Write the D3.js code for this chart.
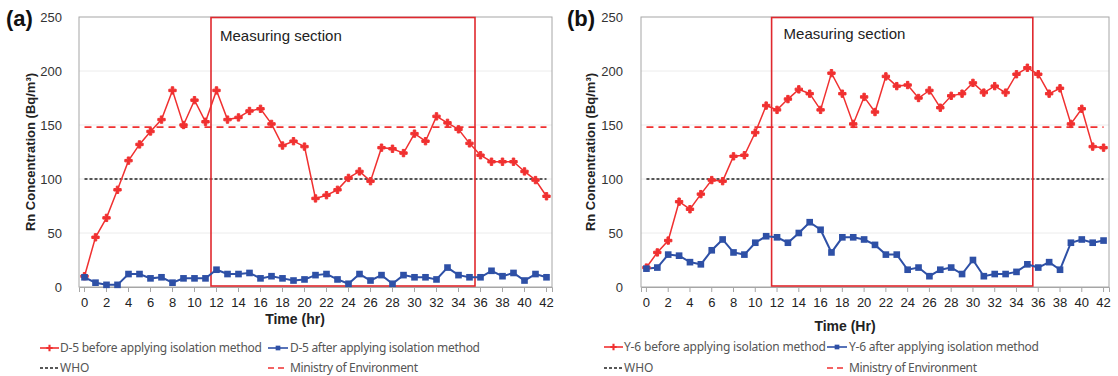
<!DOCTYPE html>
<html>
<head>
<meta charset="utf-8">
<script src="https://cdn.jsdelivr.net/npm/d3@7"></script>
<style>
  html, body { margin: 0; padding: 0; background: #fff; }
  svg { display: block; }
  text { font-family: "Liberation Sans", Arial, sans-serif; }
  text.leg { font-family: "Noto Sans", sans-serif; }
</style>
</head>
<body>
<svg id="chart" width="1118" height="376"></svg>
<script>
// ---------- data ----------
const hours = [0,1,2,3,4,5,6,7,8,9,10,11,12,13,14,15,16,17,18,19,20,21,22,23,24,25,26,27,28,29,30,31,32,33,34,35,36,37,38,39,40,41,42];
const tickLabels = [0,2,4,6,8,10,12,14,16,18,20,22,24,26,28,30,32,34,36,38,40,42];
const yTicks = [0,50,100,150,200,250];

const d5Before = [10,46,64,90,117,132,144,155,182,150,173,153,182,155,157,163,165,151,131,135,130,82,85,90,101,107,98,129,128,124,142,135,158,152,146,133,122,116,116,116,107,99,84];
const d5After  = [9,4,2,2,12,12,8,9,4,8,8,8,16,12,12,13,8,10,8,6,7,11,12,7,3,12,6,11,3,11,9,9,7,18,11,9,9,15,10,13,6,12,9];
const y6Before = [18,32,43,79,72,86,99,98,121,122,143,168,164,174,183,179,164,198,179,151,176,162,195,186,187,175,182,166,177,179,189,180,186,180,197,203,197,179,184,151,165,130,129];
const y6After  = [17,18,30,29,23,21,34,44,32,30,41,47,46,41,50,60,53,32,46,46,44,39,30,30,16,18,10,16,18,12,25,10,12,12,14,21,18,23,16,41,44,41,43];

const whoLimit = 100;
const moeLimit = 148;
const sectionStart = 12;   // first hour inside measuring section
const sectionEnd = 35;     // last hour inside measuring section

const panelLabels = ["(a)", "(b)"];
const xTitles = ["Time (hr)", "Time (Hr)"];
const yTitle = "Rn Concentration (Bq/m\u00B3)";
const sectionLabel = "Measuring section";
const legendBefore = ["D-5 before applying isolation method", "Y-6 before applying isolation method"];
const legendAfter  = ["D-5 after applying isolation method", "Y-6 after applying isolation method"];
const legendWho = "WHO";
const legendMoe = "Ministry of Environment";

// ---------- styles ----------
const RED = "#f03030";
const BLUE = "#2e50a6";
const BOX = "#e0282e";
const FRAME = "#a6a6a6";

const svg = d3.select("#chart");

function drawPanel(o) {
  const g = svg.append("g");
  const x = d3.scaleBand().domain(hours).range([o.left, o.right]).padding(0);
  const y = d3.scaleLinear().domain([0, 250]).range([o.bottom, o.top]);
  const cx = h => x(h) + x.bandwidth() / 2;

  // gridlines
  g.selectAll(".grid").data(yTicks.filter(v => v > 0 && v < 250)).join("line")
    .attr("x1", o.left).attr("x2", o.right)
    .attr("y1", d => y(d)).attr("y2", d => y(d))
    .attr("stroke", "#ececec").attr("stroke-width", 1);

  // frame
  g.append("rect").attr("x", o.left).attr("y", o.top)
    .attr("width", o.right - o.left).attr("height", o.bottom - o.top)
    .attr("fill", "none").attr("stroke", FRAME).attr("stroke-width", 1);

  // y axis
  const yAxis = d3.axisLeft(y).tickValues(yTicks).tickSize(0).tickPadding(o.yPad);
  const ya = g.append("g").attr("transform", `translate(${o.left},0)`).call(yAxis);
  ya.select(".domain").remove();
  ya.selectAll("text").attr("font-size", 13).attr("fill", "#333");

  // x axis
  const xAxis = d3.axisBottom(x).tickValues(tickLabels).tickSize(5).tickPadding(6);
  const xa = g.append("g").attr("transform", `translate(0,${o.bottom})`).call(xAxis);
  xa.select(".domain").attr("stroke", FRAME);
  xa.selectAll(".tick line").attr("stroke", FRAME);
  xa.selectAll("text").attr("font-size", 13).attr("fill", "#222");

  // reference lines
  g.append("line").attr("x1", cx(hours[0])).attr("x2", cx(hours[hours.length - 1]))
    .attr("y1", y(whoLimit)).attr("y2", y(whoLimit))
    .attr("stroke", "#222").attr("stroke-width", 1.6).attr("stroke-dasharray", "3,2");
  g.append("line").attr("x1", cx(hours[0])).attr("x2", cx(hours[hours.length - 1]))
    .attr("y1", y(moeLimit)).attr("y2", y(moeLimit))
    .attr("stroke", RED).attr("stroke-width", 1.6).attr("stroke-dasharray", "7,5");

  // measuring section box
  g.append("rect")
    .attr("x", x(sectionStart)).attr("y", o.top + 0.5)
    .attr("width", x(sectionEnd) + x.bandwidth() - x(sectionStart))
    .attr("height", o.bottom - o.top - 1.5)
    .attr("fill", "none").attr("stroke", BOX).attr("stroke-width", 1.6);
  g.append("text").attr("x", x(sectionStart) + o.secDx).attr("y", o.top + o.secDy)
    .attr("font-size", 15).attr("fill", "#222").text(sectionLabel);

  // series
  const line = d3.line().x((d, i) => cx(hours[i])).y(d => y(d));
  g.append("path").datum(o.before).attr("d", line)
    .attr("fill", "none").attr("stroke", RED).attr("stroke-width", 1.5);
  g.append("path").datum(o.after).attr("d", line)
    .attr("fill", "none").attr("stroke", BLUE).attr("stroke-width", 2);

  const marker = d3.symbol().type(d3.symbolCross).size(30);
  const square = d3.symbol().type(d3.symbolSquare).size(44);
  g.selectAll(".mb").data(o.before).join("path")
    .attr("transform", (d, i) => `translate(${cx(hours[i])},${y(d)}) rotate(0)`)
    .attr("d", marker).attr("fill", RED).attr("stroke", RED).attr("stroke-width", 1).attr("stroke-linejoin", "round");
  g.selectAll(".ma").data(o.after).join("path")
    .attr("transform", (d, i) => `translate(${cx(hours[i])},${y(d)})`)
    .attr("d", square).attr("fill", BLUE);

  // panel label
  g.append("text").attr("x", o.labelX).attr("y", 26)
    .attr("font-size", 22).attr("font-weight", "bold").attr("fill", "#111").text(o.label);

  // y title
  g.append("text").attr("transform", `translate(${o.yTitleX},152) rotate(-90)`)
    .attr("text-anchor", "middle").attr("font-size", 13).attr("font-weight", "bold")
    .attr("fill", "#222").text(yTitle);

  // x title
  g.append("text").attr("x", o.xTitleX).attr("y", o.xTitleY)
    .attr("text-anchor", "middle").attr("font-size", 14).attr("font-weight", "bold")
    .attr("fill", "#222").text(o.xTitle);

  // legend
  const lg = g.append("g");
  const r1 = o.leg1Y, r2 = o.leg2Y;
  const legText = (xx, yy, s, tl) => {
    const t = lg.append("text").attr("class", "leg").attr("x", xx).attr("y", yy)
      .attr("font-size", 12).attr("fill", "#555").text(s);
    if (tl) t.attr("textLength", tl).attr("lengthAdjust", "spacing");
  };
  // before
  lg.append("line").attr("x1", o.legX1).attr("x2", o.legX1 + 19).attr("y1", r1 - 4).attr("y2", r1 - 4)
    .attr("stroke", RED).attr("stroke-width", 1.6);
  lg.append("path").attr("transform", `translate(${o.legX1 + 9.5},${r1 - 4})`).attr("d", d3.symbol().type(d3.symbolCross).size(22)).attr("fill", RED);
  legText(o.legX1 + 20, r1, o.legBefore, o.tl1);
  // after
  lg.append("line").attr("x1", o.legX2).attr("x2", o.legX2 + 20).attr("y1", r1 - 4).attr("y2", r1 - 4)
    .attr("stroke", BLUE).attr("stroke-width", 1.6);
  lg.append("path").attr("transform", `translate(${o.legX2 + 10},${r1 - 4})`).attr("d", d3.symbol().type(d3.symbolSquare).size(22)).attr("fill", BLUE);
  legText(o.legX2 + 22, r1, o.legAfter, o.tl2);
  // WHO
  lg.append("line").attr("x1", o.legX1).attr("x2", o.legX1 + 19).attr("y1", r2 - 4).attr("y2", r2 - 4)
    .attr("stroke", "#222").attr("stroke-width", 1.6).attr("stroke-dasharray", "3,2");
  legText(o.legX1 + 20, r2, legendWho, null);
  // MoE
  lg.append("line").attr("x1", o.legX2).attr("x2", o.legX2 + 16).attr("y1", r2 - 4).attr("y2", r2 - 4)
    .attr("stroke", RED).attr("stroke-width", 1.6).attr("stroke-dasharray", "6,4");
  legText(o.legX2 + 22, r2, legendMoe, o.tl3);
}

drawPanel({
  left: 79, right: 552, top: 17, bottom: 287, yPad: 17,
  before: d5Before, after: d5After,
  label: panelLabels[0], labelX: 6,
  yTitleX: 35, xTitle: xTitles[0], xTitleX: 295, xTitleY: 324,
  secDx: 9, secDy: 24,
  legX1: 40, legX2: 268, leg1Y: 352, leg2Y: 372,
  legBefore: legendBefore[0], legAfter: legendAfter[0],
  tl1: 202, tl2: 190, tl3: 128
});
drawPanel({
  left: 641, right: 1109, top: 17, bottom: 287, yPad: 18,
  before: y6Before, after: y6After,
  label: panelLabels[1], labelX: 567,
  yTitleX: 595, xTitle: xTitles[1], xTitleX: 845, xTitleY: 331,
  secDx: 12, secDy: 22,
  legX1: 604, legX2: 827, leg1Y: 351, leg2Y: 372,
  legBefore: legendBefore[1], legAfter: legendAfter[1],
  tl1: 202, tl2: 190, tl3: 128
});
</script>
</body>
</html>
